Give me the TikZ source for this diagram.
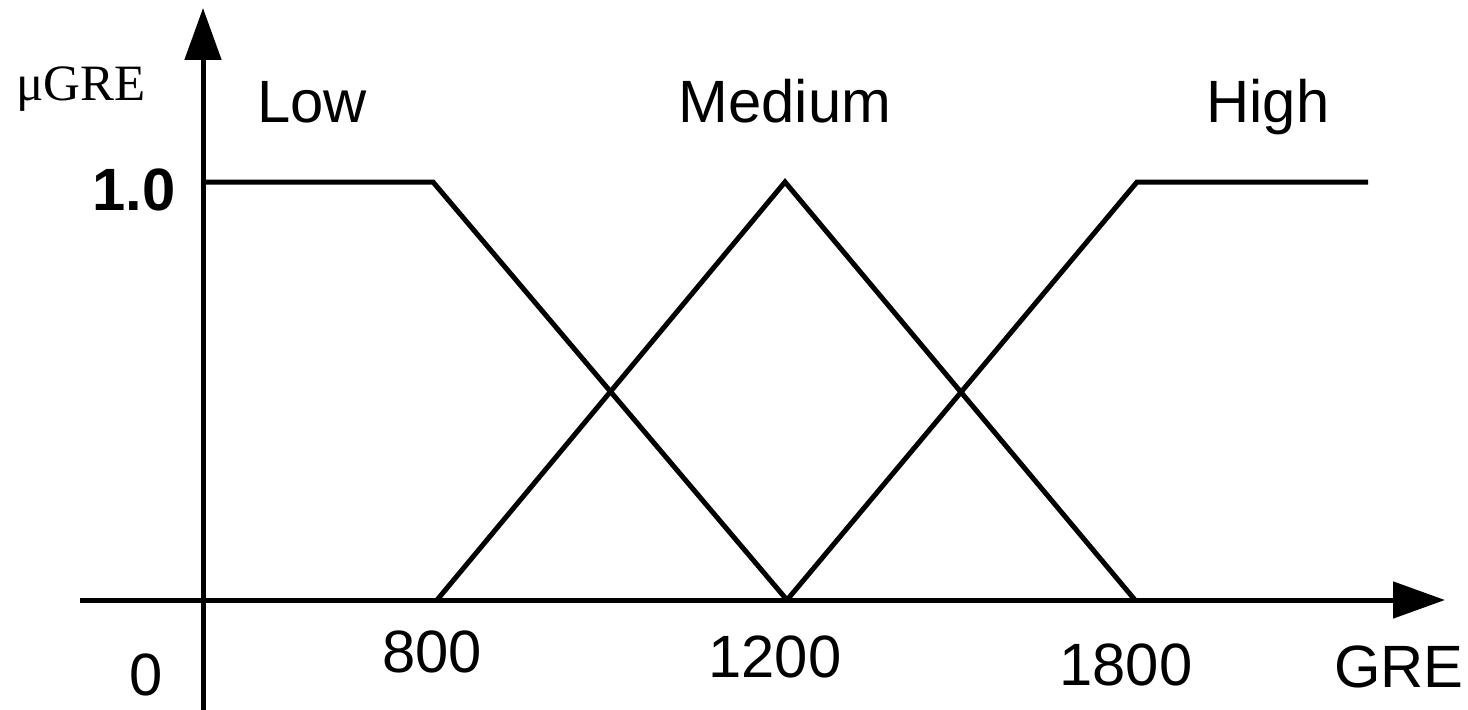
\documentclass[tikz,border=0pt]{standalone}
\usepackage{fontspec}
\setmainfont{Liberation Sans}
\newfontfamily\greserif{Liberation Serif}
\usetikzlibrary{arrows.meta}

\begin{document}
\begin{tikzpicture}[x=0.02cm, y=-0.02cm, line width=0.1cm,
		lbl/.style={font=\fontsize{34}{40}\selectfont, anchor=base},
		axistip/.style={-{Triangle[length=1.04cm, width=0.72cm]}}]
			\useasboundingbox (0,0) rectangle (1468,710);
			\draw [axistip] (203,710) -- (203,8);
			\draw [axistip] (80,600) -- (1445,600);
			\draw [-] (203,182) -- (433,182) -- (787,600);
			\draw [-] (437,600) -- (785,182) -- (1135,600);
			\draw [-] (787,600) -- (1137,182) -- (1368,182);
			\node [anchor=base, font=\greserif\fontsize{29}{34}\selectfont] (mu) at (81,100) {μGRE};
			\node [lbl] (low) at (312,122) {Low};
			\node [lbl] (medium) at (785,122) {Medium};
			\node [lbl] (high) at (1268,122) {High};
			\node [lbl, font=\fontsize{34}{40}\selectfont\bfseries] (one) at (134,210) {1.0};
			\node [lbl] (zero) at (146,695) {0};
			\node [lbl] (t800) at (432,672) {800};
			\node [lbl] (t1200) at (775,677) {1200};
			\node [lbl] (t1800) at (1126,685) {1800};
			\node [lbl] (gre) at (1399,687) {GRE};
	\end{tikzpicture}
\end{document}
